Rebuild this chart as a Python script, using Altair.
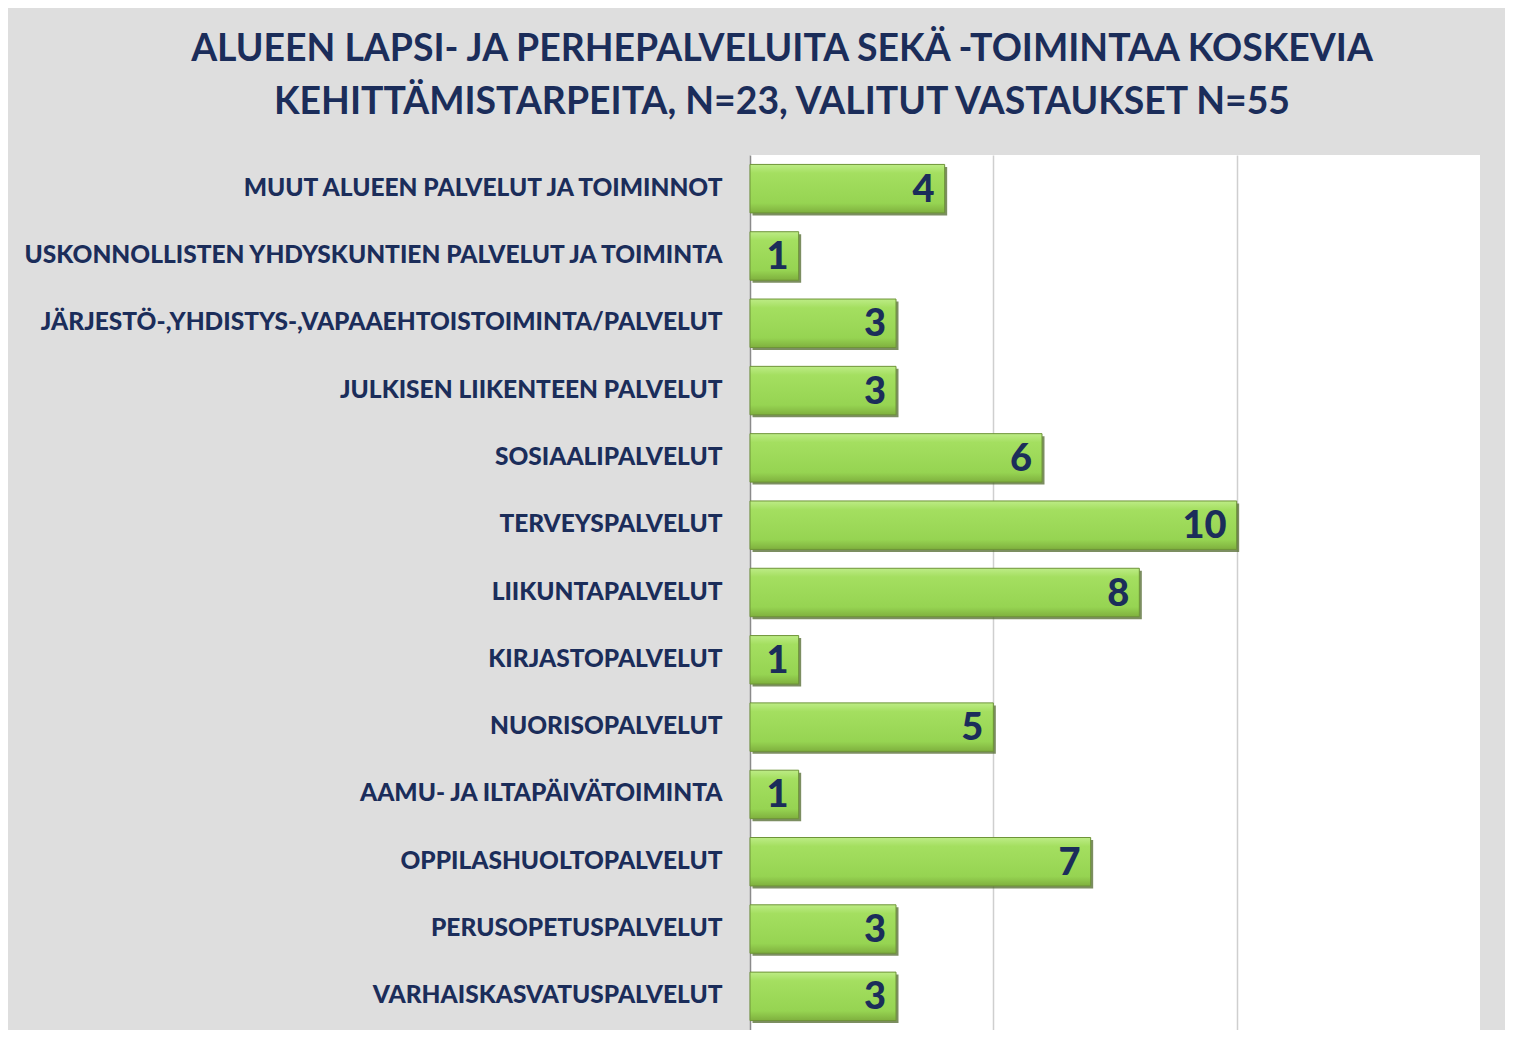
import altair as alt
import pandas as pd

categories = [
    "MUUT ALUEEN PALVELUT JA TOIMINNOT",
    "USKONNOLLISTEN YHDYSKUNTIEN PALVELUT JA TOIMINTA",
    "JÄRJESTÖ-,YHDISTYS-,VAPAAEHTOISTOIMINTA/PALVELUT",
    "JULKISEN LIIKENTEEN PALVELUT",
    "SOSIAALIPALVELUT",
    "TERVEYSPALVELUT",
    "LIIKUNTAPALVELUT",
    "KIRJASTOPALVELUT",
    "NUORISOPALVELUT",
    "AAMU- JA ILTAPÄIVÄTOIMINTA",
    "OPPILASHUOLTOPALVELUT",
    "PERUSOPETUSPALVELUT",
    "VARHAISKASVATUSPALVELUT",
]
values = [4, 1, 3, 3, 6, 10, 8, 1, 5, 1, 7, 3, 3]
grid_values = [5, 10]
title_lines = [
    "ALUEEN LAPSI- JA PERHEPALVELUITA SEKÄ -TOIMINTAA KOSKEVIA",
    "KEHITTÄMISTARPEITA, N=23, VALITUT VASTAUKSET N=55",
]

df = pd.DataFrame({"cat": categories, "val": values})

NAVY = "#1b2d5a"
FONT = "Lato"

y_enc = alt.Y(
    "cat:N",
    sort=categories,
    title=None,
    scale=alt.Scale(paddingInner=0.28, paddingOuter=0.14),
    axis=alt.Axis(
        labelFont=FONT,
        labelFontSize=24.5,
        labelFontWeight=900,
        labelColor=NAVY,
        labelPadding=28,
        labelLimit=800,
        ticks=False,
        domain=True,
        domainColor="#8a8a8a",
        domainWidth=1.5,
        grid=False,
    ),
)
x_enc = alt.X(
    "val:Q",
    title=None,
    scale=alt.Scale(domain=[0, 15], nice=False),
    axis=alt.Axis(
        values=grid_values,
        labels=False,
        ticks=False,
        domain=False,
        grid=True,
        gridColor="#cfcfcf",
        gridWidth=1.5,
    ),
)

base = alt.Chart(df)

shadow = base.mark_bar(
    color="#50682c", opacity=0.75, xOffset=2.5, yOffset=2.5
).encode(x=x_enc, y=y_enc)

bars = base.mark_bar(
    color=alt.Gradient(
        gradient="linear",
        x1=0, y1=0, x2=0, y2=1,
        stops=[
            alt.GradientStop(color="#bdec86", offset=0),
            alt.GradientStop(color="#a4df60", offset=0.18),
            alt.GradientStop(color="#96d452", offset=0.8),
            alt.GradientStop(color="#7fb03e", offset=1),
        ],
    ),
    stroke="#6e9438",
    strokeWidth=1,
).encode(x=x_enc, y=y_enc)

labels = base.mark_text(
    align="right",
    baseline="middle",
    dx=-10,
    dy=2,
    font=FONT,
    fontSize=38,
    fontWeight=900,
    color=NAVY,
).encode(x=x_enc, y=y_enc, text="val:Q")

chart = (
    alt.layer(shadow, bars, labels)
    .properties(
        width=730,
        height=875,
        padding={"left": 742, "top": 147, "right": 25, "bottom": 0},
        autosize=alt.AutoSizeParams(type="none"),
        background="#dedede",
        title=alt.TitleParams(
            text=title_lines,
            font=FONT,
            fontSize=37.4,
            fontWeight="bold",
            color=NAVY,
            anchor="middle",
            frame="group",
            dx=-333,
            offset=34,
            lineHeight=53,
        ),
    )
    .configure_view(fill="white", stroke=None)
)

chart.save("out.html", embed_options={"renderer": "svg", "actions": False})
